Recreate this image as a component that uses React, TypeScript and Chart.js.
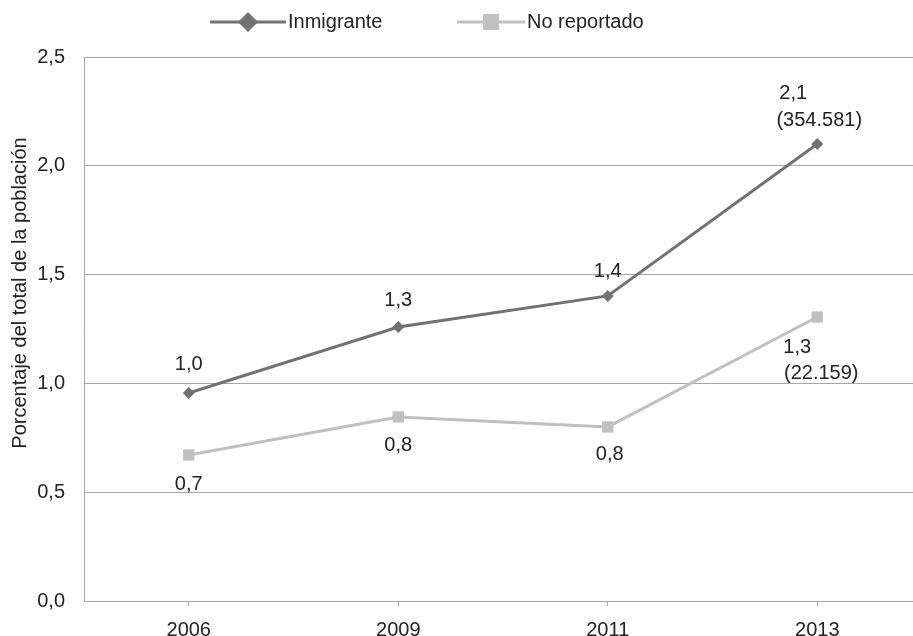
import React, { useEffect, useRef } from 'react';
import { Chart, registerables } from 'chart.js';

Chart.register(...registerables);

// ---- data ----
const years: string[] = ['2006', '2009', '2011', '2013'];
const inmigrante: number[] = [0.956, 1.259, 1.402, 2.1];
const noReportado: number[] = [0.671, 0.846, 0.8, 1.305];
const inmigranteCounts: (string | null)[] = [null, null, null, '354.581'];
const noReportadoCounts: (string | null)[] = [null, null, null, '22.159'];
const seriesNames: string[] = ['Inmigrante', 'No reportado'];
const yAxisTitle = 'Porcentaje del total de la población';

// ---- styles ----
const DARK = '#727272';
const LIGHT = '#c0c0c0';
const GRID = '#a6a6a6';
const TEXT = '#222222';
const FONT = "'Liberation Sans', Arial, Helvetica, sans-serif";
const FONT_SIZE = 20;
const CANVAS_W = 913;
const CANVAS_H = 636;
// the source chart is cropped on the right: category slots are half a slot
// wide at the left edge and run past the right edge of the picture
const X_MIN = -0.5;
const X_MAX = 3.457;

// label offsets relative to point (line1, line2)
const labelOffsets: number[][][] = [
  [[0, -28], [0, -27], [0, -24], [-24, -51, 2, -24]],
  [[0, 29], [0, 29], [2, 28], [-20, 30, 4, 56]],
];

const fmt = (v: number) => v.toFixed(1).replace('.', ',');

const legendPlugin = {
  id: 'customLegend',
  afterDraw(chart: any) {
    const ctx = chart.ctx;
    const items = [
      { x1: 210, x2: 286, color: DARK, style: 'diamond', text: seriesNames[0] },
      { x1: 457, x2: 525, color: LIGHT, style: 'square', text: seriesNames[1] },
    ];
    const y = 22;
    ctx.save();
    items.forEach((it) => {
      ctx.strokeStyle = it.color;
      ctx.lineWidth = 3;
      ctx.beginPath();
      ctx.moveTo(it.x1, y);
      ctx.lineTo(it.x2, y);
      ctx.stroke();
      const cx = (it.x1 + it.x2) / 2;
      ctx.fillStyle = it.color;
      ctx.beginPath();
      if (it.style === 'diamond') {
        ctx.moveTo(cx, y - 10);
        ctx.lineTo(cx + 10, y);
        ctx.lineTo(cx, y + 10);
        ctx.lineTo(cx - 10, y);
        ctx.closePath();
      } else {
        ctx.rect(cx - 8, y - 8, 16, 16);
      }
      ctx.fill();
      ctx.fillStyle = TEXT;
      ctx.font = `${FONT_SIZE}px ${FONT}`;
      ctx.textAlign = 'left';
      ctx.textBaseline = 'middle';
      ctx.fillText(it.text, it.x2 + 2, y);
    });
    ctx.restore();
  },
};

const titlePlugin = {
  id: 'yTitle',
  afterDraw(chart: any) {
    const ctx = chart.ctx;
    ctx.save();
    ctx.translate(20, 293);
    ctx.rotate(-Math.PI / 2);
    ctx.fillStyle = TEXT;
    ctx.font = `${FONT_SIZE}px ${FONT}`;
    ctx.textAlign = 'center';
    ctx.textBaseline = 'middle';
    ctx.fillText(yAxisTitle, 0, 0);
    ctx.restore();
  },
};

const labelsPlugin = {
  id: 'dataLabels',
  afterDatasetsDraw(chart: any) {
    const ctx = chart.ctx;
    const counts = [inmigranteCounts, noReportadoCounts];
    ctx.save();
    ctx.fillStyle = TEXT;
    ctx.font = `${FONT_SIZE}px ${FONT}`;
    ctx.textAlign = 'center';
    ctx.textBaseline = 'middle';
    chart.data.datasets.forEach((ds: any, di: number) => {
      const meta = chart.getDatasetMeta(di);
      meta.data.forEach((pt: any, i: number) => {
        const off = labelOffsets[di][i];
        ctx.fillText(fmt(ds.data[i].y), pt.x + off[0], pt.y + off[1]);
        const c = counts[di][i];
        if (c && off.length > 2) {
          ctx.fillText(`(${c})`, pt.x + off[2], pt.y + off[3]);
        }
      });
    });
    ctx.restore();
  },
};

export default function App() {
  const ref = useRef<HTMLCanvasElement | null>(null);

  useEffect(() => {
    if (!ref.current) return;
    const chart = new Chart(ref.current, {
      type: 'line',
      data: {
        datasets: [
          {
            label: seriesNames[0],
            data: inmigrante.map((v, i) => ({ x: i, y: v })),
            borderColor: DARK,
            backgroundColor: DARK,
            borderWidth: 3,
            pointStyle: 'rectRot',
            pointRadius: 6,
            pointBorderWidth: 0,
            tension: 0,
          },
          {
            label: seriesNames[1],
            data: noReportado.map((v, i) => ({ x: i, y: v })),
            borderColor: LIGHT,
            backgroundColor: LIGHT,
            borderWidth: 3,
            pointStyle: 'rect',
            pointRadius: 8,
            pointBorderWidth: 0,
            tension: 0,
          },
        ],
      },
      options: {
        responsive: false,
        animation: false,
        devicePixelRatio: 1,
        layout: { autoPadding: false, padding: { top: 57, left: 0, right: 0, bottom: 0 } },
        plugins: {
          legend: { display: false },
          tooltip: { enabled: false },
        },
        scales: {
          x: {
            type: 'linear',
            min: X_MIN,
            max: X_MAX,
            grid: {
              display: true,
              drawOnChartArea: false,
              drawTicks: true,
              tickLength: 5,
              color: GRID,
            },
            border: { display: true, color: GRID, width: 1 },
            ticks: {
              stepSize: 1,
              includeBounds: false,
              autoSkip: false,
              padding: 12,
              color: TEXT,
              font: { family: FONT, size: FONT_SIZE },
              maxRotation: 0,
              callback: (v: any) => {
                const n = Number(v);
                return Number.isInteger(n) && years[n] !== undefined ? years[n] : '';
              },
            },
            afterFit: (s: any) => {
              s.height = 35;
            },
          },
          y: {
            min: 0,
            max: 2.5,
            ticks: {
              stepSize: 0.5,
              padding: 19,
              color: TEXT,
              font: { family: FONT, size: FONT_SIZE },
              callback: (v: any) => fmt(Number(v)),
            },
            grid: { color: GRID, drawTicks: false },
            border: { display: true, color: GRID, width: 1 },
            afterFit: (s: any) => {
              s.width = 84;
            },
          },
        },
      },
      plugins: [legendPlugin, titlePlugin, labelsPlugin],
    });
    return () => chart.destroy();
  }, []);

  return (
    <div
      style={{
        position: 'fixed',
        left: 0,
        top: 0,
        width: CANVAS_W,
        height: CANVAS_H,
        overflow: 'hidden',
        background: '#ffffff',
      }}
    >
      <canvas
        ref={ref}
        width={CANVAS_W}
        height={CANVAS_H}
        style={{ display: 'block', width: CANVAS_W, height: CANVAS_H }}
      />
    </div>
  );
}
